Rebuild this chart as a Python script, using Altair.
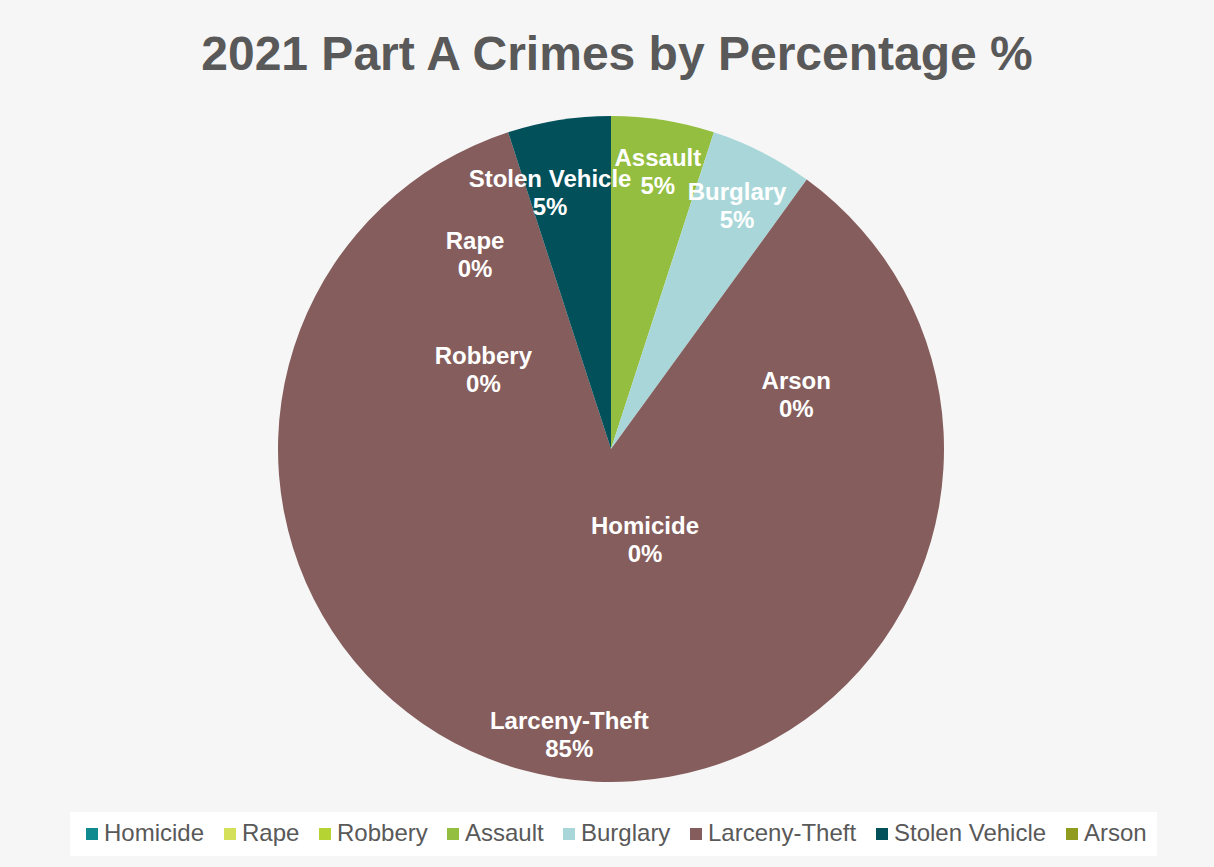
import altair as alt
import pandas as pd

# ---- data ----
categories = ["Homicide", "Rape", "Robbery", "Assault", "Burglary",
              "Larceny-Theft", "Stolen Vehicle", "Arson"]
counts = [0, 0, 0, 1, 1, 17, 1, 0]
colors = ["#0f8a8e", "#d4e05a", "#b6d334", "#93be3f", "#a9d7d9",
          "#855d5c", "#02505a", "#8f9c1d"]

# label placement (as Excel placed them): angle clockwise from top (deg), distance from centre
label_angle = [159.5, 325.0, 301.7, 9.6, 27.4, 188.3, 346.6, 73.7]
label_dist = [97, 237, 150, 281, 274, 289, 263, 193]

total = sum(counts)
pct = [f"{round(100 * c / total)}%" for c in counts]

df = pd.DataFrame({
    "category": categories,
    "count": counts,
    "idx": list(range(len(categories))),
    "label": [f"{c}\n{p}" for c, p in zip(categories, pct)],
    "ang": label_angle,
    "dist": label_dist,
})

R = 333

pie = alt.Chart(df).mark_arc(outerRadius=R, stroke=None).encode(
    theta=alt.Theta("count:Q", stack=True),
    order=alt.Order("idx:Q"),
    color=alt.Color(
        "category:N",
        sort=categories,
        scale=alt.Scale(domain=categories, range=colors),
        legend=alt.Legend(
            title=None,
            orient="none",
            legendX=62,
            legendY=696,
            direction="horizontal",
            columns=8,
            symbolType="square",
            symbolSize=144,
            symbolStrokeWidth=0,
            labelFontSize=24,
            labelFont="Liberation Sans",
            labelColor="#595959",
            labelOffset=0,
            columnPadding=13,
            labelLimit=400,
            fillColor="white",
            padding=10,
        ),
    ),
)

labels = alt.Chart(df).mark_text(
    font="Liberation Sans",
    fontSize=24,
    fontWeight="bold",
    color="white",
    lineBreak="\n",
    lineHeight=28,
    align="center",
    baseline="middle",
    dy=-13,
).encode(
    theta=alt.Theta("ang:Q", stack=None,
                    scale=alt.Scale(domain=[0, 360], range=[0, 6.283185307])),
    radius=alt.Radius("dist:Q",
                      scale=alt.Scale(type="linear", domain=[0, R], range=[0, R], zero=True)),
    text="label:N",
)

chart = alt.layer(pie, labels).resolve_scale(
    theta="independent", radius="independent"
).properties(
    width=1206,
    height=666,
    padding={"left": 8, "top": 116, "right": 0, "bottom": 85},
    autosize=alt.AutoSizeParams(type="none"),
    background="#f6f6f6",
    title=alt.TitleParams(
        "2021 Part A Crimes by Percentage %",
        font="Liberation Sans",
        fontSize=48,
        fontWeight="bold",
        color="#595959",
        anchor="middle",
        baseline="alphabetic",
        offset=-2,
        dx=6,
    ),
).configure_view(stroke=None)

chart.save("out.html", embed_options={"renderer": "svg", "actions": False})
